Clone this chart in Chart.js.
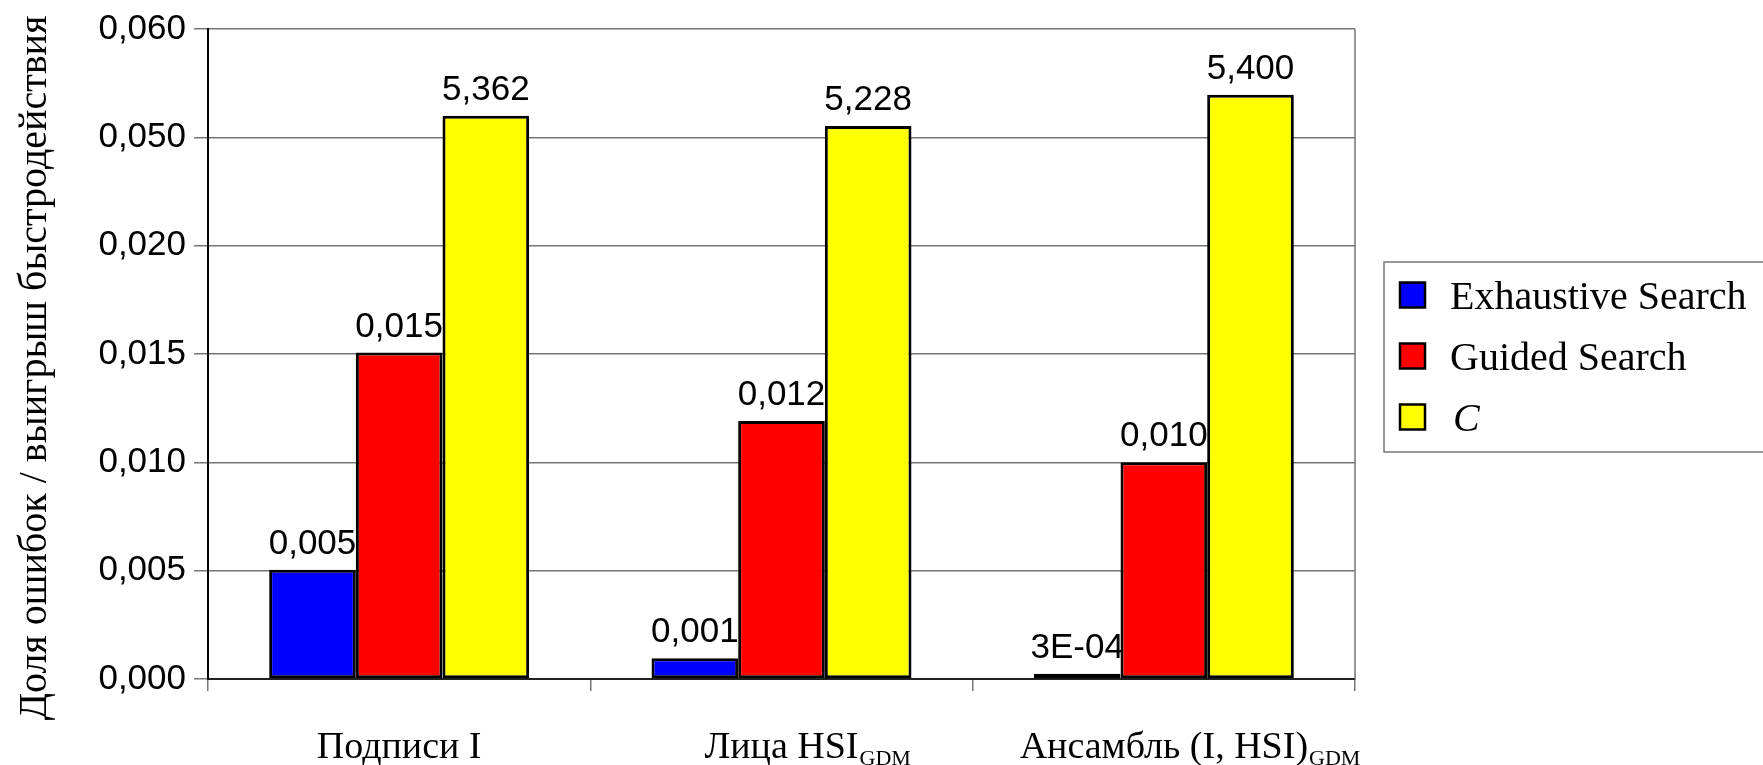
<!DOCTYPE html>
<html>
<head>
<meta charset="utf-8">
<script src="https://cdn.jsdelivr.net/npm/chart.js@4.4.0/dist/chart.umd.min.js"></script>
<style>
  html, body { margin: 0; padding: 0; background: #fff; }
  #wrap { width: 1763px; height: 765px; position: relative; }
</style>
</head>
<body>
<div id="wrap"><canvas id="chart"></canvas></div>
<script>
// Kategorien der x-Achse (Haupttext + tiefgestellter Teil)
const categories = ["Подписи I", "Лица HSI", "Ансамбль (I, HSI)"];
const categorySubs = ["", "GDM", "GDM"];

// Serien
const seriesNames = ["Exhaustive Search", "Guided Search", "C"];
const exhaustive = [0.00504, 0.00096, 0.00024];
const guided = [0.01507, 0.01191, 0.0100];
const cValues = [0.0260, 0.02552, 0.02696]; // so hoch wie im Original aufgetragen

// Beschriftungen über den Balken
const exhaustiveLabels = ["0,005", "0,001", "3E-04"];
const guidedLabels = ["0,015", "0,012", "0,010"];
const cLabels = ["5,362", "5,228", "5,400"];

// y-Achse
const yTickLabels = ["0,000", "0,005", "0,010", "0,015", "0,020", "0,050", "0,060"];
const yTitle = "Доля ошибок / выигрыш быстродействия";

const SANS = "'Liberation Sans', Arial, sans-serif";
const SERIF = "'Liberation Serif', 'Times New Roman', serif";
const GRID = "#767676";

// Zusatzzeichnungen: Rahmen, Werte, Achsentexte, Legende
const extras = {
  id: "extras",
  afterDraw(chart) {
    const ctx = chart.ctx;
    const area = chart.chartArea;
    ctx.save();

    // rechter Rahmen
    ctx.strokeStyle = GRID;
    ctx.lineWidth = 1.5;
    ctx.beginPath();
    ctx.moveTo(area.right, area.top);
    ctx.lineTo(area.right, area.bottom);
    ctx.stroke();

    // Werte über den Balken
    ctx.font = "35px " + SANS;
    ctx.fillStyle = "#000";
    ctx.textAlign = "center";
    ctx.textBaseline = "bottom";
    chart.data.datasets.forEach((ds, d) => {
      chart.getDatasetMeta(d).data.forEach((bar, i) => {
        ctx.fillText(ds.valueLabels[i], bar.x, bar.y - 8);
      });
    });

    // x-Beschriftungen mit Index
    const xScale = chart.scales.x;
    ctx.textAlign = "left";
    ctx.textBaseline = "alphabetic";
    categories.forEach((cat, i) => {
      const cx = xScale.getPixelForValue(i);
      ctx.font = "38px " + SERIF;
      const w = ctx.measureText(cat).width;
      const x0 = cx - w / 2;
      ctx.fillText(cat, x0, 758);
      if (categorySubs[i]) {
        ctx.font = "22px " + SERIF;
        ctx.fillText(categorySubs[i], x0 + w + 1, 765);
      }
    });

    // y-Titel
    ctx.save();
    ctx.translate(46, 368);
    ctx.rotate(-Math.PI / 2);
    ctx.textAlign = "center";
    ctx.font = "40px " + SERIF;
    ctx.fillText(yTitle, 0, 0);
    ctx.restore();

    // Legende
    ctx.strokeStyle = GRID;
    ctx.lineWidth = 1.5;
    ctx.strokeRect(1384, 262, 420, 190);
    chart.data.datasets.forEach((ds, d) => {
      const cy = 295 + d * 61;
      ctx.fillStyle = ds.backgroundColor;
      ctx.fillRect(1400, cy - 12.5, 25, 25);
      ctx.strokeStyle = "#000";
      ctx.lineWidth = 2.5;
      ctx.strokeRect(1400, cy - 12.5, 25, 25);
      ctx.fillStyle = "#000";
      ctx.font = (ds.italicLegend ? "italic " : "") + "40px " + SERIF;
      ctx.fillText(ds.label, ds.italicLegend ? 1453 : 1450, cy + 14);
    });

    ctx.restore();
  }
};

const canvas = document.querySelector("#chart");
const ctx = canvas.getContext("2d");

new Chart(ctx, {
  type: "bar",
  data: {
    labels: categories,
    datasets: [
      { label: seriesNames[0], data: exhaustive, valueLabels: exhaustiveLabels, backgroundColor: "#0000ff" },
      { label: seriesNames[1], data: guided, valueLabels: guidedLabels, backgroundColor: "#ff0000" },
      { label: seriesNames[2], data: cValues, valueLabels: cLabels, backgroundColor: "#ffff00", italicLegend: true },
    ],
  },
  options: {
    responsive: true,
    maintainAspectRatio: false,
    animation: false,
    events: [],
    layout: { padding: { top: 28, right: 408, bottom: 0, left: 0 } },
    datasets: {
      bar: {
        categoryPercentage: 0.68,
        barPercentage: 1.0,
        borderColor: "#000",
        borderWidth: 3,
        borderSkipped: false,
      },
    },
    scales: {
      x: {
        offset: true,
        grid: { offset: true, drawOnChartArea: false, drawTicks: true, tickLength: 12, color: GRID, lineWidth: 1.5 },
        border: { color: "#222", width: 2 },
        ticks: { display: false },
        afterFit(scale) { scale.height = 86; },
      },
      y: {
        min: 0,
        max: 0.03,
        ticks: {
          stepSize: 0.005,
          padding: 8,
          color: "#000",
          font: { family: SANS, size: 35 },
          callback: (value, index) => yTickLabels[index],
        },
        grid: { color: GRID, lineWidth: 1.5, tickLength: 14 },
        border: { color: "#000", width: 2 },
        afterFit(scale) { scale.width = 208; },
      },
    },
    plugins: {
      legend: { display: false },
      tooltip: { enabled: false },
    },
  },
  plugins: [extras],
});
</script>
</body>
</html>
